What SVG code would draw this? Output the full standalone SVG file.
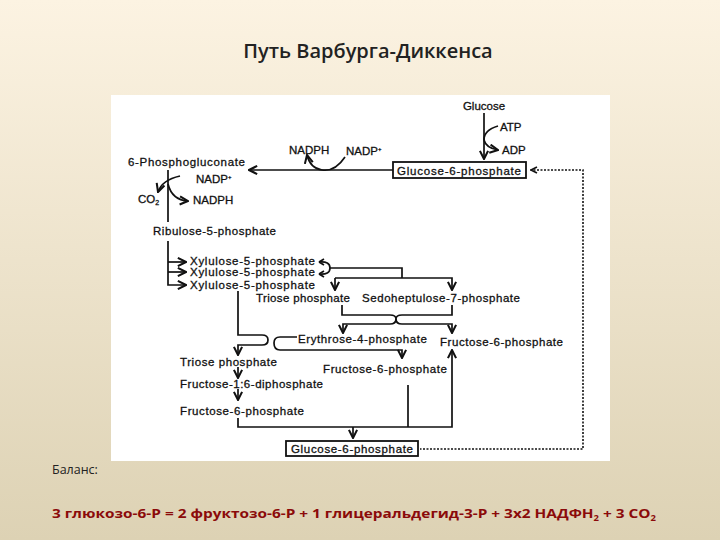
<svg xmlns="http://www.w3.org/2000/svg" width="720" height="540" viewBox="0 0 720 540">
<defs>
<linearGradient id="bg" x1="0" y1="0" x2="0" y2="1"><stop offset="0" stop-color="#fcf3e2"/><stop offset="1" stop-color="#ddd2b4"/></linearGradient>
<marker id="ah" viewBox="0 0 10 10" refX="9" refY="5" markerWidth="6" markerHeight="6" orient="auto-start-reverse"><path d="M1,1 L9,5 L1,9" fill="none" stroke="#111" stroke-width="2"/></marker>
<style>
.t{font-family:"Liberation Sans",Arial,sans-serif;font-size:11.5px;fill:#111;stroke:#111;stroke-width:0.3}
.l{fill:none;stroke:#111;stroke-width:1.7}
.d{fill:none;stroke:#111;stroke-width:1.6;stroke-dasharray:2 1.5}
.b{fill:#fff;stroke:#111;stroke-width:1.8}
</style>
</defs>
<rect width="720" height="540" fill="url(#bg)"/>
<text x="368" y="58" text-anchor="middle" font-family="'Open Sans',sans-serif" font-size="20" font-weight="600" fill="#222">Путь Варбурга-Диккенса</text>
<rect x="111" y="95" width="499" height="366" fill="#fff"/>
<g id="connectors">
<path class="l" d="M484,113 V159" marker-end="url(#ah)"/>
<path class="l" d="M498,126 Q484,130 484,140"/>
<path class="l" d="M484,140 Q486,148 498,150" marker-end="url(#ah)"/>
<path class="l" d="M393,170 H249" marker-end="url(#ah)"/>
<path class="l" d="M345,157 Q335,172 322,170 Q310,168 307,155" marker-end="url(#ah)"/>
<path class="d" d="M530,170 H583 V449 H420"/>
<path class="l" d="M531,170 L537,167 M531,170 L537,173"/>
<path class="l" d="M168,170 V222"/>
<path class="l" d="M180,176 Q162,180 158,192" marker-end="url(#ah)"/>
<path class="l" d="M168,184 Q172,200 188,201" marker-end="url(#ah)"/>
<path class="l" d="M168,241 V285 H186" marker-end="url(#ah)"/>
<path class="l" d="M168,262 H186" marker-end="url(#ah)"/>
<path class="l" d="M168,272 H186" marker-end="url(#ah)"/>
<path class="l" d="M330,268 H402 V278"/>
<path class="l" d="M319,262 Q330,261 330,268 Q330,275 319,274"/>
<path class="l" d="M319,262 l5,-3 M319,262 l5,3 M319,274 l5,-3 M319,274 l5,3"/>
<path class="l" d="M335,278 V290" marker-end="url(#ah)"/>
<path class="l" d="M335,278 H452 V290" marker-end="url(#ah)"/>
<path class="l" d="M342,305 V315 H390 Q396,315 396,319 Q396,315 402,315 H452 V305"/>
<path class="l" d="M396,319 Q396,324 390,324 H343 V333" marker-end="url(#ah)"/>
<path class="l" d="M396,319 Q396,324 402,324 H452 V333" marker-end="url(#ah)"/>
<path class="l" d="M238,291 V335 H262 Q268,335 268,340 Q268,345 262,345 H238 V355" marker-end="url(#ah)"/>
<path class="l" d="M297,337 H280 Q274,337 274,343 Q274,350 280,350 H402 V358" marker-end="url(#ah)"/>
<path class="l" d="M238,367 V378" marker-end="url(#ah)"/>
<path class="l" d="M238,389 V400" marker-end="url(#ah)"/>
<path class="l" d="M238,418 V427 H452 V350" marker-end="url(#ah)"/>
<path class="l" d="M408,385 V427"/>
<path class="l" d="M353,427 V438" marker-end="url(#ah)"/>
</g>
<g id="glucose"><text class="t" x="484" y="110" text-anchor="middle">Glucose</text></g>
<g id="atp"><text class="t" x="500" y="131">ATP</text></g>
<g id="adp"><text class="t" x="502" y="154">ADP</text></g>
<g id="g6p-top"><rect class="b" x="393" y="162" width="133" height="16"/><text class="t" x="459" y="174.5" text-anchor="middle" textLength="124">Glucose-6-phosphate</text></g>
<g id="nadph1"><text class="t" x="289" y="154">NADPH</text></g>
<g id="nadp1"><text class="t" x="346" y="155">NADP<tspan font-size="6" dy="-4">+</tspan></text></g>
<g id="pg"><text class="t" x="128" y="166" textLength="117">6-Phosphogluconate</text></g>
<g id="nadp2"><text class="t" x="196" y="183">NADP<tspan font-size="6" dy="-4">+</tspan></text></g>
<g id="co2"><text class="t" x="138" y="203">CO<tspan font-size="7" dy="2">2</tspan></text></g>
<g id="nadph2"><text class="t" x="193" y="204">NADPH</text></g>
<g id="ru5p"><text class="t" x="153" y="235" textLength="123">Ribulose-5-phosphate</text></g>
<g id="xu1"><text class="t" x="190" y="265" textLength="125" font-size="9.5">Xylulose-5-phosphate</text></g>
<g id="xu2"><text class="t" x="190" y="275.5" textLength="125" font-size="9.5">Xylulose-5-phosphate</text></g>
<g id="xu3"><text class="t" x="190" y="288.5" textLength="125" font-size="10">Xylulose-5-phosphate</text></g>
<g id="tp1"><text class="t" x="256" y="302" textLength="94">Triose phosphate</text></g>
<g id="s7p"><text class="t" x="362" y="302" textLength="158">Sedoheptulose-7-phosphate</text></g>
<g id="e4p"><text class="t" x="298" y="343" textLength="129">Erythrose-4-phosphate</text></g>
<g id="f6p-r"><text class="t" x="440" y="346" textLength="123">Fructose-6-phosphate</text></g>
<g id="tp2"><text class="t" x="180" y="366" textLength="97">Triose phosphate</text></g>
<g id="f6p-m"><text class="t" x="323" y="373" textLength="124">Fructose-6-phosphate</text></g>
<g id="fdp"><text class="t" x="180" y="388" textLength="143">Fructose-1:6-diphosphate</text></g>
<g id="f6p-l"><text class="t" x="180" y="415" textLength="124">Fructose-6-phosphate</text></g>
<g id="g6p-bot"><rect class="b" x="286" y="441" width="132" height="15"/><text class="t" x="352" y="452.5" text-anchor="middle" textLength="122">Glucose-6-phosphate</text></g>
<text x="52" y="474" font-family="'Open Sans',sans-serif" font-size="12.5" fill="#222">Баланс:</text>
<text x="52" y="518" font-family="'Open Sans',sans-serif" font-size="13" font-weight="bold" fill="#8b0a0a" textLength="604" lengthAdjust="spacingAndGlyphs">3 глюкозо-6-Р = 2 фруктозо-6-Р + 1 глицеральдегид-3-Р + 3х2 НАДФН<tspan font-size="8" dy="3">2</tspan><tspan dy="-3"> + 3 СО</tspan><tspan font-size="8" dy="3">2</tspan></text>
</svg>
